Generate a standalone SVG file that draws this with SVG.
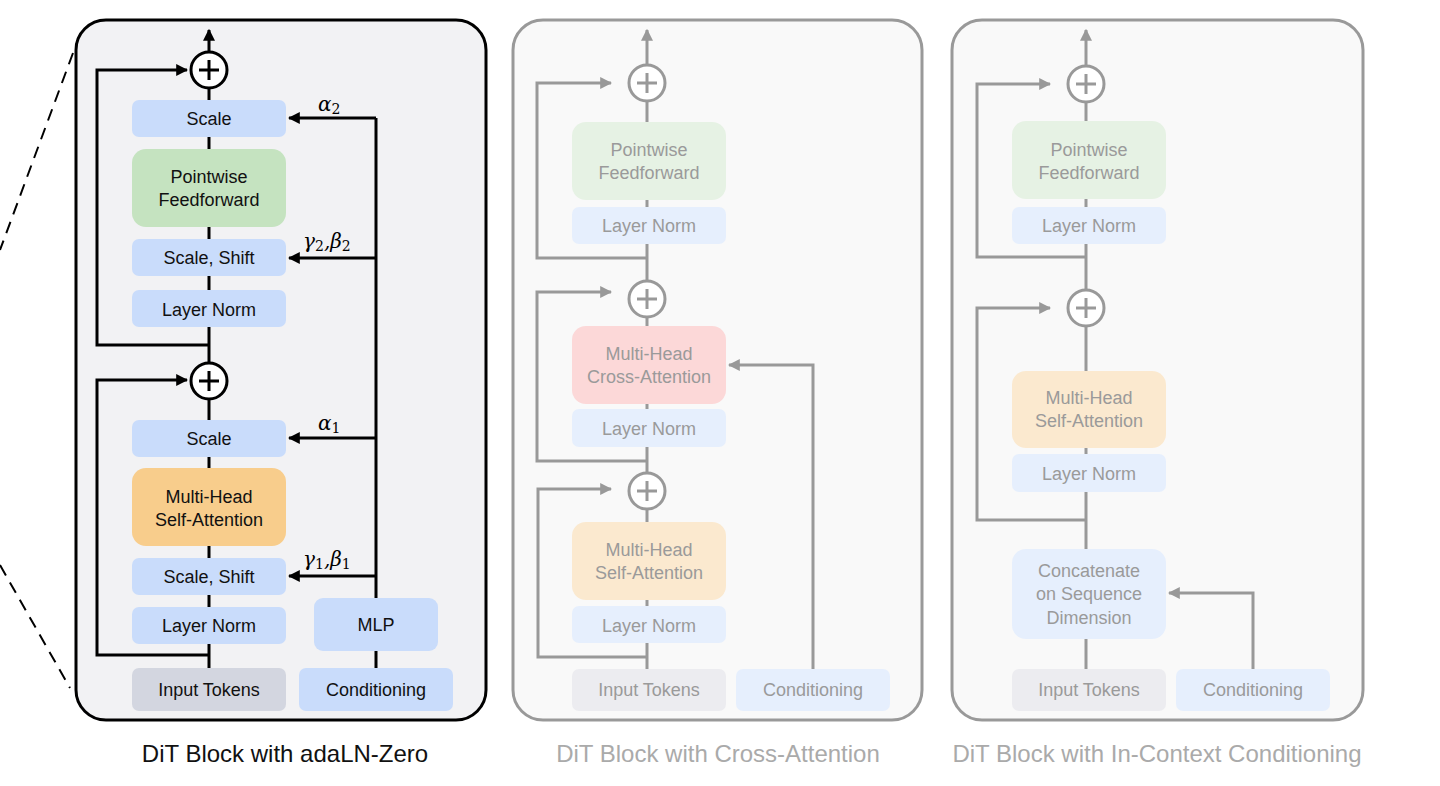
<svg xmlns="http://www.w3.org/2000/svg" width="1440" height="786" viewBox="0 0 1440 786">
<style>
text{font-family:"Liberation Sans",Arial,sans-serif;font-size:18px;text-anchor:middle;dominant-baseline:central}
.dk{fill:#111}.lt{fill:#9a9a9a}
.k{stroke:#000;stroke-width:3;fill:none}
.g{stroke:#999;stroke-width:3;fill:none}
.gr{font-family:"DejaVu Serif","Liberation Serif",serif;font-style:italic;font-size:20px;fill:#000;text-anchor:start}
.sub{font-size:14px;font-style:normal}
.title{font-size:24px}
</style>
<defs>
<marker id="ak" viewBox="0 0 10 10" refX="9" refY="5" markerWidth="4" markerHeight="4" orient="auto" markerUnits="strokeWidth"><path d="M0,0L10,5L0,10z" fill="#000"/></marker>
<marker id="ag" viewBox="0 0 10 10" refX="9" refY="5" markerWidth="4" markerHeight="4" orient="auto" markerUnits="strokeWidth"><path d="M0,0L10,5L0,10z" fill="#999"/></marker>
</defs>
<g id="zoomlines"><path d="M73,53L0,250M0,565L70,688" stroke="#000" stroke-width="2" stroke-dasharray="12,8" fill="none"/></g>

<g id="panel1"><rect x="76" y="20" width="410" height="700" rx="30" fill="#f2f2f4" stroke="#000" stroke-width="3"/></g>
<g id="panel2"><rect x="513" y="20" width="409" height="700" rx="30" fill="#f9f9f9" stroke="#999" stroke-width="3"/></g>
<g id="panel3"><rect x="952" y="20" width="411" height="700" rx="30" fill="#f9f9f9" stroke="#999" stroke-width="3"/></g>

<g id="connectors">
<path class="k" d="M209,668V30" marker-end="url(#ak)"/>
<path class="k" d="M209,345H97V70H187" marker-end="url(#ak)"/>
<path class="k" d="M209,655H97V380H187" marker-end="url(#ak)"/>
<path class="k" d="M376,598V118"/>
<path class="k" d="M376,118H289" marker-end="url(#ak)"/>
<path class="k" d="M376,258H289" marker-end="url(#ak)"/>
<path class="k" d="M376,438H289" marker-end="url(#ak)"/>
<path class="k" d="M376,576H289" marker-end="url(#ak)"/>
<path class="k" d="M376,668V651"/>

<path class="g" d="M647,669V30" marker-end="url(#ag)"/>
<path class="g" d="M647,258H537V83H611" marker-end="url(#ag)"/>
<path class="g" d="M647,461H537V292H611" marker-end="url(#ag)"/>
<path class="g" d="M647,657H538V489H611" marker-end="url(#ag)"/>
<path class="g" d="M813,669V365H729" marker-end="url(#ag)"/>

<path class="g" d="M1086,669V30" marker-end="url(#ag)"/>
<path class="g" d="M1086,257H977V84H1050" marker-end="url(#ag)"/>
<path class="g" d="M1086,520H977V308H1050" marker-end="url(#ag)"/>
<path class="g" d="M1253,669V593H1169" marker-end="url(#ag)"/>
</g>

<g id="n1-plus1"><circle cx="209" cy="70" r="18" fill="#fff" stroke="#000" stroke-width="3"/><path d="M199,70H219M209,60V80" stroke="#000" stroke-width="3"/></g>
<g id="n1-plus2"><circle cx="209" cy="381" r="18" fill="#fff" stroke="#000" stroke-width="3"/><path d="M199,381H219M209,371V391" stroke="#000" stroke-width="3"/></g>
<g id="n1-scale2"><rect x="132" y="100" width="154" height="37" rx="7" fill="#c9dcfb"/><text class="dk" x="209" y="119">Scale</text></g>
<g id="n1-ff"><rect x="132" y="149" width="154" height="78" rx="14" fill="#c5e3c0"/><text class="dk" x="209" y="177">Pointwise</text><text class="dk" x="209" y="200">Feedforward</text></g>
<g id="n1-ss2"><rect x="132" y="239" width="154" height="37" rx="7" fill="#c9dcfb"/><text class="dk" x="209" y="258">Scale, Shift</text></g>
<g id="n1-ln2"><rect x="132" y="290" width="154" height="37" rx="7" fill="#c9dcfb"/><text class="dk" x="209" y="310">Layer Norm</text></g>
<g id="n1-scale1"><rect x="132" y="420" width="154" height="37" rx="7" fill="#c9dcfb"/><text class="dk" x="209" y="439">Scale</text></g>
<g id="n1-attn"><rect x="132" y="468" width="154" height="78" rx="14" fill="#f8cd8c"/><text class="dk" x="209" y="497">Multi-Head</text><text class="dk" x="209" y="520">Self-Attention</text></g>
<g id="n1-ss1"><rect x="132" y="558" width="154" height="37" rx="7" fill="#c9dcfb"/><text class="dk" x="209" y="577">Scale, Shift</text></g>
<g id="n1-ln1"><rect x="132" y="607" width="154" height="37" rx="7" fill="#c9dcfb"/><text class="dk" x="209" y="626">Layer Norm</text></g>
<g id="n1-in"><rect x="132" y="668" width="154" height="43" rx="7" fill="#d3d6e0"/><text class="dk" x="209" y="690">Input Tokens</text></g>
<g id="n1-mlp"><rect x="314" y="598" width="124" height="53" rx="9" fill="#c9dcfb"/><text class="dk" x="376" y="625">MLP</text></g>
<g id="n1-cond"><rect x="299" y="668" width="154" height="43" rx="7" fill="#c9dcfb"/><text class="dk" x="376" y="690">Conditioning</text></g>
<g id="labels1">
<text class="gr" x="318" y="104">α<tspan class="sub" dy="5">2</tspan></text>
<text class="gr" x="303" y="241">γ<tspan class="sub" dy="5">2</tspan><tspan dy="-5">,β</tspan><tspan class="sub" dy="5">2</tspan></text>
<text class="gr" x="318" y="423">α<tspan class="sub" dy="5">1</tspan></text>
<text class="gr" x="303" y="559">γ<tspan class="sub" dy="5">1</tspan><tspan dy="-5">,β</tspan><tspan class="sub" dy="5">1</tspan></text>
</g>

<g id="n2-plus1"><circle cx="647" cy="83" r="18" fill="#fff" stroke="#999" stroke-width="3"/><path d="M637,83H657M647,73V93" stroke="#999" stroke-width="3"/></g>
<g id="n2-plus2"><circle cx="647" cy="299" r="18" fill="#fff" stroke="#999" stroke-width="3"/><path d="M637,299H657M647,289V309" stroke="#999" stroke-width="3"/></g>
<g id="n2-plus3"><circle cx="647" cy="491" r="18" fill="#fff" stroke="#999" stroke-width="3"/><path d="M637,491H657M647,481V501" stroke="#999" stroke-width="3"/></g>
<g id="n2-ff"><rect x="572" y="122" width="154" height="78" rx="14" fill="#e6f2e4"/><text class="lt" x="649" y="150">Pointwise</text><text class="lt" x="649" y="173">Feedforward</text></g>
<g id="n2-ln3"><rect x="572" y="207" width="154" height="37" rx="7" fill="#e6effd"/><text class="lt" x="649" y="226">Layer Norm</text></g>
<g id="n2-xattn"><rect x="572" y="326" width="154" height="78" rx="14" fill="#fcd8d8"/><text class="lt" x="649" y="354">Multi-Head</text><text class="lt" x="649" y="377">Cross-Attention</text></g>
<g id="n2-ln2"><rect x="572" y="409" width="154" height="38" rx="7" fill="#e6effd"/><text class="lt" x="649" y="429">Layer Norm</text></g>
<g id="n2-attn"><rect x="572" y="522" width="154" height="78" rx="14" fill="#fbe9cf"/><text class="lt" x="649" y="550">Multi-Head</text><text class="lt" x="649" y="573">Self-Attention</text></g>
<g id="n2-ln1"><rect x="572" y="606" width="154" height="37" rx="7" fill="#e6effd"/><text class="lt" x="649" y="626">Layer Norm</text></g>
<g id="n2-in"><rect x="572" y="669" width="154" height="42" rx="7" fill="#ececf0"/><text class="lt" x="649" y="690">Input Tokens</text></g>
<g id="n2-cond"><rect x="736" y="669" width="154" height="42" rx="7" fill="#e6effd"/><text class="lt" x="813" y="690">Conditioning</text></g>

<g id="n3-plus1"><circle cx="1086" cy="84" r="18" fill="#fff" stroke="#999" stroke-width="3"/><path d="M1076,84H1096M1086,74V94" stroke="#999" stroke-width="3"/></g>
<g id="n3-plus2"><circle cx="1086" cy="308" r="18" fill="#fff" stroke="#999" stroke-width="3"/><path d="M1076,308H1096M1086,298V318" stroke="#999" stroke-width="3"/></g>
<g id="n3-ff"><rect x="1012" y="121" width="154" height="78" rx="14" fill="#e6f2e4"/><text class="lt" x="1089" y="150">Pointwise</text><text class="lt" x="1089" y="173">Feedforward</text></g>
<g id="n3-ln2"><rect x="1012" y="207" width="154" height="37" rx="7" fill="#e6effd"/><text class="lt" x="1089" y="226">Layer Norm</text></g>
<g id="n3-attn"><rect x="1012" y="371" width="154" height="77" rx="14" fill="#fbe9cf"/><text class="lt" x="1089" y="398">Multi-Head</text><text class="lt" x="1089" y="421">Self-Attention</text></g>
<g id="n3-ln1"><rect x="1012" y="454" width="154" height="38" rx="7" fill="#e6effd"/><text class="lt" x="1089" y="474">Layer Norm</text></g>
<g id="n3-concat"><rect x="1012" y="549" width="154" height="90" rx="14" fill="#e6effd"/><text class="lt" x="1089" y="571">Concatenate</text><text class="lt" x="1089" y="594">on Sequence</text><text class="lt" x="1089" y="618">Dimension</text></g>
<g id="n3-in"><rect x="1012" y="669" width="154" height="42" rx="7" fill="#ececf0"/><text class="lt" x="1089" y="690">Input Tokens</text></g>
<g id="n3-cond"><rect x="1176" y="669" width="154" height="42" rx="7" fill="#e6effd"/><text class="lt" x="1253" y="690">Conditioning</text></g>

<g id="titles">
<text class="title dk" x="285" y="753">DiT Block with adaLN-Zero</text>
<text class="title" x="718" y="753" fill="#aaa">DiT Block with Cross-Attention</text>
<text class="title" x="1157" y="753" fill="#aaa">DiT Block with In-Context Conditioning</text>
</g>
</svg>
